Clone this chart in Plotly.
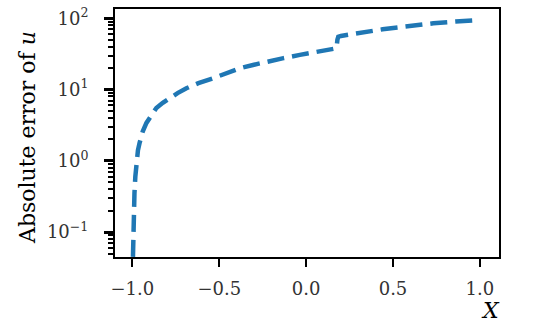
import plotly.graph_objects as go

# values (absolute error vs X, log scale)
x_vals = [-1.0, -0.998, -0.995, -0.992, -0.988, -0.983, -0.977, -0.968, -0.958,
          -0.94, -0.919, -0.89, -0.862, -0.825, -0.785, -0.74, -0.689, -0.62,
          -0.536, -0.46, -0.382, -0.3, -0.228, -0.13, -0.036, 0.07, 0.175,
          0.18, 0.185, 0.2, 0.26, 0.348, 0.44, 0.54, 0.63, 0.732, 0.86, 1.0]
err_vals = [0.02, 0.05, 0.11, 0.2, 0.35, 0.6, 1.0, 1.4, 1.8,
            2.6, 3.4, 4.5, 5.5, 6.5, 7.6, 8.9, 10.4, 12.3,
            14.4, 17.0, 19.9, 22.3, 24.6, 27.6, 30.6, 34.0, 37.9,
            50.0, 55.0, 56.5, 60.0, 65.0, 70.0, 74.8, 80.0, 85.0, 90.0, 94.6]

x_ticks = [-1.0, -0.5, 0.0, 0.5, 1.0]
x_tick_text = ["−1.0", "−0.5", "0.0", "0.5", "1.0"]
y_ticks = [0.1, 1, 10, 100]
y_tick_text = ["10<sup>−1</sup>", "10<sup>0</sup>", "10<sup>1</sup>", "10<sup>2</sup>"]
y_minor = [m * 10 ** k for k in range(-2, 2) for m in range(2, 10)]

FONT = "DejaVu Serif"
W, H = 534, 322
L, T, R, B = 115, 9, 35, 65
PW, PH = W - L - R, H - T - B

fig = go.Figure(go.Scatter(
    x=x_vals, y=err_vals, mode="lines",
    line=dict(color="#1f77b4", width=4.5, dash="17px,8px"),
))

fig.update_layout(
    width=W, height=H,
    margin=dict(l=L, r=R, t=T, b=B),
    plot_bgcolor="white", paper_bgcolor="white",
    showlegend=False,
    font=dict(family=FONT, color="#333", size=18),
)
fig.update_xaxes(
    range=[-1.1, 1.11], tickvals=x_ticks, ticktext=x_tick_text,
    showgrid=False, zeroline=False, automargin=False,
    showline=True, linecolor="black", linewidth=2, mirror=True,
    ticks="outside", ticklen=8, tickwidth=2, tickcolor="black",
    ticklabelstandoff=6, ticklabeloverflow="allow",
)
fig.update_yaxes(
    type="log", range=[-1.35, 2.13], tickvals=y_ticks, ticktext=y_tick_text,
    showgrid=False, zeroline=False, automargin=False,
    showline=True, linecolor="black", linewidth=2, mirror=True,
    ticks="outside", ticklen=9, tickwidth=2.5, tickcolor="black",
    ticklabelstandoff=12, ticklabeloverflow="allow",
    minor=dict(tickvals=y_minor, ticks="outside", ticklen=5, tickwidth=1.5,
               tickcolor="black", showgrid=False),
)
# axis titles placed in pixels relative to the plot area
fig.add_annotation(
    text="Absolute error of <i>u</i>", textangle=-90,
    x=(27 - L) / PW, y=(T + PH - 138) / PH, xref="paper", yref="paper",
    xanchor="center", yanchor="middle", showarrow=False,
    font=dict(size=22, color="black"),
)
fig.add_annotation(
    text="<i>X</i>",
    x=(490 - L) / PW, y=-(310 - T - PH) / PH, xref="paper", yref="paper",
    xanchor="center", yanchor="middle", showarrow=False,
    font=dict(size=22, color="black"),
)

# drop the default 8px body margin so the figure fills the window exactly
fig.write_html("out.html", config={"displayModeBar": False},
               post_script="document.body.style.margin = '0';")
